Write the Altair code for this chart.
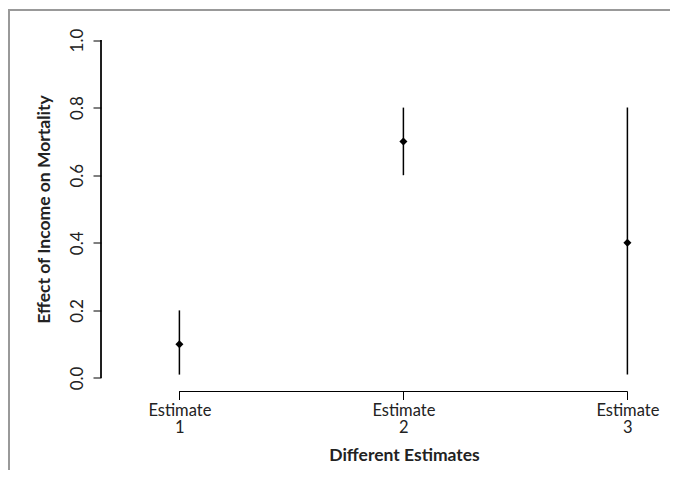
import altair as alt
import pandas as pd

estimates = [1, 2, 3]
points = [0.1, 0.7, 0.4]
lower = [0.01, 0.6, 0.01]
upper = [0.2, 0.8, 0.8]

df = pd.DataFrame({"est": estimates, "pt": points, "lo": lower, "hi": upper})

FONT = "Lato"
TXT = "#222"
xdom = [0.65, 3.15]
ydom = [-0.04, 1.04]

xs = alt.Scale(domain=xdom, nice=False, zero=False)
ys = alt.Scale(domain=ydom, nice=False, zero=False)

xaxis = alt.Axis(
    values=estimates, domain=False, grid=False, tickSize=8, tickColor="black",
    labelExpr="['Estimate', datum.value]", labelLineHeight=17, labelPadding=16,
    labelBaseline="alphabetic",
    labelFontSize=16.5, labelFont=FONT, labelColor=TXT,
    title="Different Estimates", titleFont=FONT, titleFontSize=17.5, titleFontWeight="bold",
    titleX=303, titleY=69, titleBaseline="alphabetic", titleColor=TXT,
)
yaxis = alt.Axis(
    values=[0, 0.2, 0.4, 0.6, 0.8, 1.0], format=".1f", domain=False, grid=False,
    tickSize=8, tickColor="black", labelAngle=270, labelAlign="center",
    labelBaseline="alphabetic", labelPadding=11, labelFontSize=17, labelFont=FONT,
    labelColor=TXT,
    title="Effect of Income on Mortality", titleFont=FONT, titleFontSize=17.5,
    titleFontWeight="bold", titleX=-52, titleY=182.5, titleBaseline="alphabetic",
    titleAngle=270, titleColor=TXT,
)

base = alt.Chart(df)

bars = base.mark_rule(color="black", strokeWidth=1.5).encode(
    x=alt.X("est:Q", scale=xs, axis=xaxis),
    y=alt.Y("lo:Q", scale=ys, axis=yaxis),
    y2="hi:Q",
)
pts = base.mark_point(shape="diamond", filled=True, color="black", size=65, opacity=1).encode(
    x=alt.X("est:Q", scale=xs),
    y=alt.Y("pt:Q", scale=ys),
)
yline = base.mark_rule(color="black", strokeWidth=1).encode(
    x=alt.value(0), y=alt.datum(0, scale=ys), y2=alt.datum(1)
)
xline = base.mark_rule(color="black", strokeWidth=1).encode(
    y=alt.value(365), x=alt.datum(1, scale=xs), x2=alt.datum(3)
)
frame_left = base.mark_rule(color="#999", strokeWidth=2).encode(
    x=alt.value(-92), y=alt.value(-16.5), y2=alt.value(600)
)
frame_top = base.mark_rule(color="#999", strokeWidth=2).encode(
    y=alt.value(-16.5), x=alt.value(-93), x2=alt.value(800)
)

chart = alt.layer(frame_left, frame_top, bars, pts, yline, xline).properties(
    width=560, height=365,
    autosize=alt.AutoSizeParams(type="none"),
    padding={"left": 93, "top": 18.5, "right": 9, "bottom": 78},
).configure_view(stroke=None)

chart.save("out.html", embed_options={"renderer": "svg", "actions": False})
